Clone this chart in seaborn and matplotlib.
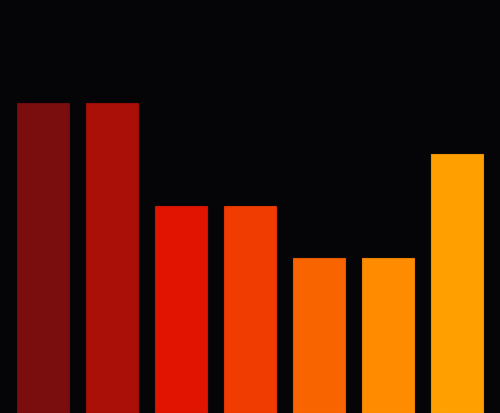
import pandas as pd
import seaborn as sns
import matplotlib.pyplot as plt

categories = ["A", "B", "C", "D", "E", "F", "G"]
values = [6, 6, 4, 4, 3, 3, 5]
colors = ["#7a0e0e", "#ab1008", "#e01400", "#f03c00", "#f86400", "#ff8c00", "#ffa000"]
edges = ["#6a0c0c", "#9a0e06", "#cc1200", "#dc3600", "#e45a00", "#ea8000", "#ea9200"]

df = pd.DataFrame({"cat": categories, "val": values})

sns.set_style("white")
fig = plt.figure(figsize=(5, 4.14), dpi=100, facecolor="#050407")
ax = fig.add_axes([0, 0, 1, 1])
ax.set_facecolor("#050407")

sns.barplot(data=df, x="cat", y="val", hue="cat", palette=colors,
            legend=False, width=0.74, saturation=1, ax=ax)
for bar, ec in zip(ax.patches, edges):
    bar.set_edgecolor(ec)
    bar.set_linewidth(0.8)

ax.set_xlim(-0.623, 6.623)
ax.set_ylim(0, 8)
ax.axis("off")

plt.savefig("out.png", dpi=100, facecolor="#050407")
